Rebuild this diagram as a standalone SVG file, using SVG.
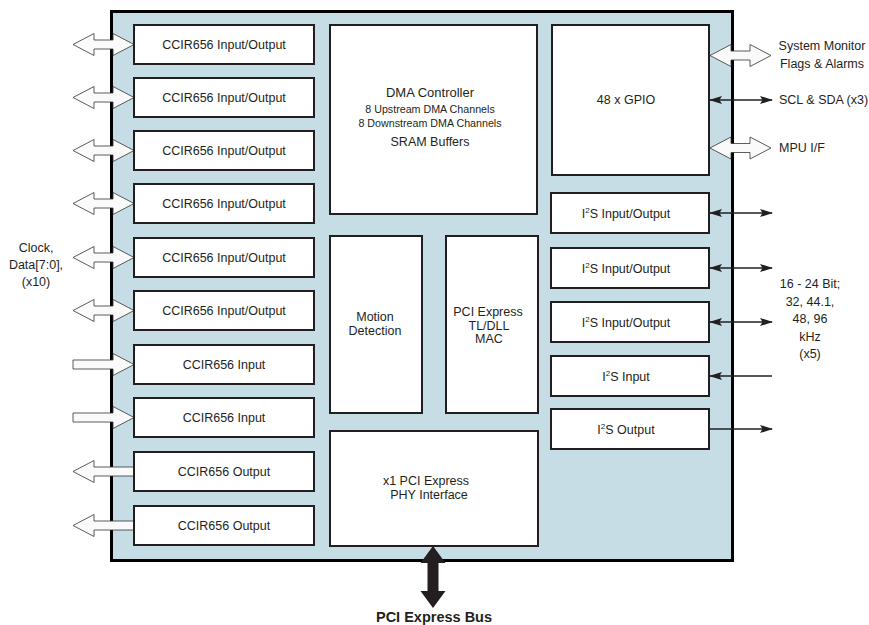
<svg xmlns="http://www.w3.org/2000/svg" width="869" height="625" viewBox="0 0 869 625">
<style>
text{font-family:"Liberation Sans",Arial,sans-serif;fill:#231f20;font-size:12.5px}
.m{text-anchor:middle}
.s{font-size:10.7px}
.b{font-weight:bold;font-size:14.5px}
.box{fill:#fff;stroke:#231f20;stroke-width:2}
.hol{fill:#fafafa;stroke:#333;stroke-width:0.8}
.ln{stroke:#231f20;stroke-width:1.4;fill:none}
</style>
<defs>
<path id="dbl" d="M0,0 L21,-11 L21,-4.5 L40,-4.5 L40,-11 L61,0 L40,11 L40,4.5 L21,4.5 L21,11 Z"/>
<path id="inA" d="M0,-4.5 L40,-4.5 L40,-11 L61,0 L40,11 L40,4.5 L0,4.5 Z"/>
<path id="outA" d="M0,0 L21,-11 L21,-4.5 L61,-4.5 L61,4.5 L21,4.5 L21,11 Z"/>
<marker id="ah" markerWidth="13" markerHeight="9" refX="12" refY="4.5" orient="auto-start-reverse" markerUnits="userSpaceOnUse"><path d="M0,0.5 L13,4.5 L0,8.5 L2.5,4.5 Z" fill="#231f20"/></marker>
</defs>
<rect id="chip" x="111.5" y="11.5" width="621" height="549" fill="#c6dde6" stroke="#000" stroke-width="3"/>
<g id="connectors">
<use href="#dbl" class="hol" x="73" y="44.5"/>
<use href="#dbl" class="hol" x="73" y="97.5"/>
<use href="#dbl" class="hol" x="73" y="150.5"/>
<use href="#dbl" class="hol" x="73" y="203.5"/>
<use href="#dbl" class="hol" x="73" y="257.5"/>
<use href="#dbl" class="hol" x="73" y="310.5"/>
<use href="#inA" class="hol" x="73" y="364.5"/>
<use href="#inA" class="hol" x="73" y="417.5"/>
<use href="#outA" class="hol" x="73" y="471.5"/>
<use href="#outA" class="hol" x="73" y="525.5"/>
<use href="#dbl" class="hol" x="710" y="55.5"/>
<use href="#dbl" class="hol" x="710" y="148"/>
<line class="ln" x1="710" y1="100" x2="772" y2="100" marker-start="url(#ah)" marker-end="url(#ah)"/>
<line class="ln" x1="710" y1="213" x2="772" y2="213" marker-start="url(#ah)" marker-end="url(#ah)"/>
<line class="ln" x1="710" y1="268" x2="772" y2="268" marker-start="url(#ah)" marker-end="url(#ah)"/>
<line class="ln" x1="710" y1="322" x2="772" y2="322" marker-start="url(#ah)" marker-end="url(#ah)"/>
<line class="ln" x1="772" y1="376" x2="710" y2="376" marker-end="url(#ah)"/>
<line class="ln" x1="709" y1="429" x2="772" y2="429" marker-end="url(#ah)"/>
<path d="M433,546 L445.5,563 L438.5,563 L438.5,591 L445.5,591 L433,608 L420.5,591 L427.5,591 L427.5,563 L420.5,563 Z" fill="#231f20"/>
</g>
<g id="io1"><rect class="box" x="134" y="25" width="180" height="39"/><text class="m" x="224" y="49">CCIR656 Input/Output</text></g>
<g id="io2"><rect class="box" x="134" y="78" width="180" height="39"/><text class="m" x="224" y="102">CCIR656 Input/Output</text></g>
<g id="io3"><rect class="box" x="134" y="131" width="180" height="39"/><text class="m" x="224" y="155">CCIR656 Input/Output</text></g>
<g id="io4"><rect class="box" x="134" y="184" width="180" height="39"/><text class="m" x="224" y="208">CCIR656 Input/Output</text></g>
<g id="io5"><rect class="box" x="134" y="238" width="180" height="39"/><text class="m" x="224" y="262">CCIR656 Input/Output</text></g>
<g id="io6"><rect class="box" x="134" y="291" width="180" height="39"/><text class="m" x="224" y="315">CCIR656 Input/Output</text></g>
<g id="in1"><rect class="box" x="134" y="345" width="180" height="39"/><text class="m" x="224" y="369">CCIR656 Input</text></g>
<g id="in2"><rect class="box" x="134" y="398" width="180" height="39"/><text class="m" x="224" y="422">CCIR656 Input</text></g>
<g id="out1"><rect class="box" x="134" y="452" width="180" height="39"/><text class="m" x="224" y="476">CCIR656 Output</text></g>
<g id="out2"><rect class="box" x="134" y="506" width="180" height="39"/><text class="m" x="224" y="530">CCIR656 Output</text></g>
<g id="dma"><rect class="box" x="330" y="25" width="207" height="189"/>
<text class="m" x="430" y="97" style="font-size:13px">DMA Controller</text>
<text class="m s" x="430" y="112.5">8 Upstream DMA Channels</text>
<text class="m s" x="430" y="126.5">8 Downstream DMA Channels</text>
<text class="m" x="430" y="146">SRAM Buffers</text></g>
<g id="gpio"><rect class="box" x="552" y="25" width="157" height="150"/><text class="m" x="626" y="104">48 x GPIO</text></g>
<g id="i2s1"><rect class="box" x="551" y="193" width="158" height="40"/><text class="m" x="626" y="218">I<tspan font-size="8" dy="-5">2</tspan><tspan dy="5">S Input/Output</tspan></text></g>
<g id="i2s2"><rect class="box" x="551" y="248" width="158" height="40"/><text class="m" x="626" y="273">I<tspan font-size="8" dy="-5">2</tspan><tspan dy="5">S Input/Output</tspan></text></g>
<g id="i2s3"><rect class="box" x="551" y="302" width="158" height="40"/><text class="m" x="626" y="327">I<tspan font-size="8" dy="-5">2</tspan><tspan dy="5">S Input/Output</tspan></text></g>
<g id="i2s4"><rect class="box" x="551" y="356" width="158" height="40"/><text class="m" x="626" y="381">I<tspan font-size="8" dy="-5">2</tspan><tspan dy="5">S Input</tspan></text></g>
<g id="i2s5"><rect class="box" x="551" y="409" width="158" height="40"/><text class="m" x="626" y="434">I<tspan font-size="8" dy="-5">2</tspan><tspan dy="5">S Output</tspan></text></g>
<g id="motion"><rect class="box" x="330" y="236" width="92" height="177"/>
<text class="m" x="375" y="321">Motion</text><text class="m" x="375" y="334.5">Detection</text></g>
<g id="mac"><rect class="box" x="446" y="236" width="92" height="177"/>
<text class="m" x="488" y="316">PCI Express</text><text class="m" x="489" y="329.5">TL/DLL</text><text class="m" x="489" y="343">MAC</text></g>
<g id="phy"><rect class="box" x="330" y="431" width="208" height="115"/>
<text class="m" x="426" y="485">x1 PCI Express</text><text class="m" x="429" y="498.5">PHY Interface</text></g>
<g id="labels">
<text class="m" x="36" y="252">Clock,</text>
<text class="m" x="36" y="268.5">Data[7:0],</text>
<text class="m" x="36" y="286">(x10)</text>
<text class="m" x="822" y="50">System Monitor</text>
<text class="m" x="822" y="67.5">Flags &amp; Alarms</text>
<text x="779" y="104">SCL &amp; SDA (x3)</text>
<text x="779" y="152">MPU I/F</text>
<text class="m" x="810" y="288">16 - 24 Bit;</text>
<text class="m" x="810" y="305.5">32, 44.1,</text>
<text class="m" x="810" y="323">48, 96</text>
<text class="m" x="810" y="340.5">kHz</text>
<text class="m" x="810" y="358">(x5)</text>
<text class="m b" x="434" y="622">PCI Express Bus</text>
</g>
</svg>
